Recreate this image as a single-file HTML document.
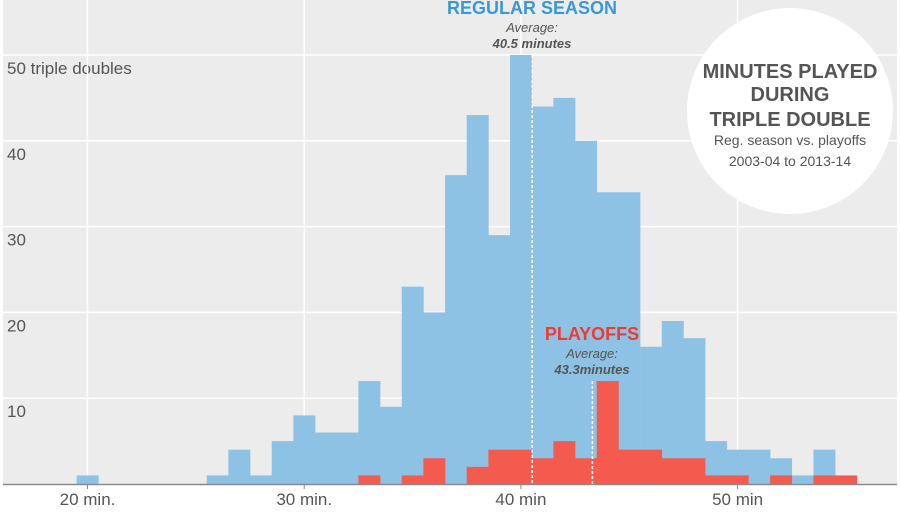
<!DOCTYPE html>
<html><head><meta charset="utf-8"><style>
body{margin:0;background:#fff}
svg text{font-family:"Liberation Sans Narrow","Liberation Sans",sans-serif}
</style></head><body>
<svg id="chart" width="900" height="509" viewBox="0 0 900 509" xmlns="http://www.w3.org/2000/svg">
<rect x="0" y="0" width="900" height="509" fill="#ffffff"/>
<rect x="3" y="0" width="894" height="484" fill="#ececec"/>
<g id="grid"></g>
<g id="bars"></g>
<g id="annot"></g>
</svg>
<script>
const minutes=[20,21,22,23,24,25,26,27,28,29,30,31,32,33,34,35,36,37,38,39,40,41,42,43,44,45,46,47,48,49,50,51,52,53,54,55];
const regularSeason=[1,0,0,0,0,0,1,4,1,5,8,6,6,12,9,23,20,36,43,29,50,44,45,40,34,34,16,19,17,5,4,4,3,1,4,0];
const playoffs=[0,0,0,0,0,0,0,0,0,0,0,0,0,1,0,1,3,0,2,4,4,3,5,3,12,4,4,3,3,1,1,0,1,0,1,1];
const yTicks=[10,20,30,40,50];
const yTickLabels=["10","20","30","40","50 triple doubles"];
const xTicks=[20,30,40,50];
const xTickLabels=["20 min.","30 min.","40 min","50 min"];
const regAvg=40.5, poAvg=43.3;

const NS="http://www.w3.org/2000/svg";
const x=m=>87.5+(m-20)*21.67;
const y=v=>484-v*8.58;
function mk(tag,attrs,parent,text){const e=document.createElementNS(NS,tag);for(const k in attrs)e.setAttribute(k,attrs[k]);if(text!=null)e.textContent=text;parent.appendChild(e);return e;}
const grid=document.getElementById('grid'),bars=document.getElementById('bars'),an=document.getElementById('annot');

yTicks.forEach((t,i)=>{
  const l=mk('line',{x1:3,x2:897,y1:y(t),y2:y(t),stroke:'#fff','stroke-width':1.5},grid);
  
  
  const tx=mk('text',{x:7,y:y(t)+19,'font-size':17,fill:'#555'},grid,yTickLabels[i]);
  
  
});
xTicks.forEach((t,i)=>{
  const l=mk('line',{x1:x(t),x2:x(t),y1:0,y2:484,stroke:'#fff','stroke-width':1.5},grid);
  
  
});
minutes.forEach((m,i)=>{
  if(regularSeason[i]>0){
    const r=mk('rect',{x:x(m-0.5),y:y(regularSeason[i]),width:x(m+0.5)-x(m-0.5)+0.3,height:484-y(regularSeason[i]),fill:'#8ec2e4'},bars);
    
    
  }
});
minutes.forEach((m,i)=>{
  if(playoffs[i]>0){
    const r=mk('rect',{x:x(m-0.5),y:y(playoffs[i]),width:x(m+0.5)-x(m-0.5)+0.3,height:484-y(playoffs[i]),fill:'#f45a4e'},bars);
    
    
  }
});
const base=mk('line',{x1:3,x2:897,y1:484.5,y2:484.5,stroke:'#8a8a8a','stroke-width':1.5},an);


xTicks.forEach((t,i)=>{
  const tk=mk('line',{x1:x(t),x2:x(t),y1:484,y2:489,stroke:'#8a8a8a','stroke-width':1},an);
  
  
  const tx=mk('text',{x:x(t),y:505,'font-size':17,fill:'#555','text-anchor':'middle'},an,xTickLabels[i]);
  
  
});
const ra=mk('line',{x1:x(regAvg)+0.5,x2:x(regAvg)+0.5,y1:y(50),y2:484,stroke:'#fff','stroke-width':1.5,'stroke-dasharray':'3,2'},an);


const pa=mk('line',{x1:x(poAvg),x2:x(poAvg),y1:y(12),y2:484,stroke:'#fff','stroke-width':1.5,'stroke-dasharray':'3,2'},an);


</script>
<svg style="position:absolute;left:0;top:0" width="900" height="509">
<text x="532" y="14" font-size="18" font-weight="bold" fill="#3a98d8" text-anchor="middle" font-family="Liberation Sans Narrow, Liberation Sans, sans-serif">REGULAR SEASON</text>
<text x="532" y="32" font-size="13" font-style="italic" fill="#555" text-anchor="middle" font-family="Liberation Sans Narrow, Liberation Sans, sans-serif">Average:</text>
<text x="532" y="48" font-size="13" font-style="italic" font-weight="bold" fill="#555" text-anchor="middle" font-family="Liberation Sans Narrow, Liberation Sans, sans-serif">40.5 minutes</text>
<text x="592" y="340" font-size="18" font-weight="bold" fill="#f03a2e" text-anchor="middle" font-family="Liberation Sans Narrow, Liberation Sans, sans-serif">PLAYOFFS</text>
<text x="592" y="358" font-size="13" font-style="italic" fill="#555" text-anchor="middle" font-family="Liberation Sans Narrow, Liberation Sans, sans-serif">Average:</text>
<text x="592" y="374" font-size="13" font-style="italic" font-weight="bold" fill="#555" text-anchor="middle" font-family="Liberation Sans Narrow, Liberation Sans, sans-serif">43.3minutes</text>
<circle cx="790" cy="111" r="103" fill="#fff"/>
<g font-family="Liberation Sans Narrow, Liberation Sans, sans-serif" text-anchor="middle">
<text x="790" y="78" font-size="20" font-weight="bold" fill="#555">MINUTES PLAYED</text>
<text x="790" y="101" font-size="20" font-weight="bold" fill="#555">DURING</text>
<text x="790" y="126" font-size="20" font-weight="bold" fill="#555">TRIPLE DOUBLE</text>
<text x="790" y="145" font-size="14" fill="#555">Reg. season vs. playoffs</text>
<text x="790" y="166" font-size="14" fill="#555">2003-04 to 2013-14</text>
</g>
</svg>
</body></html>
